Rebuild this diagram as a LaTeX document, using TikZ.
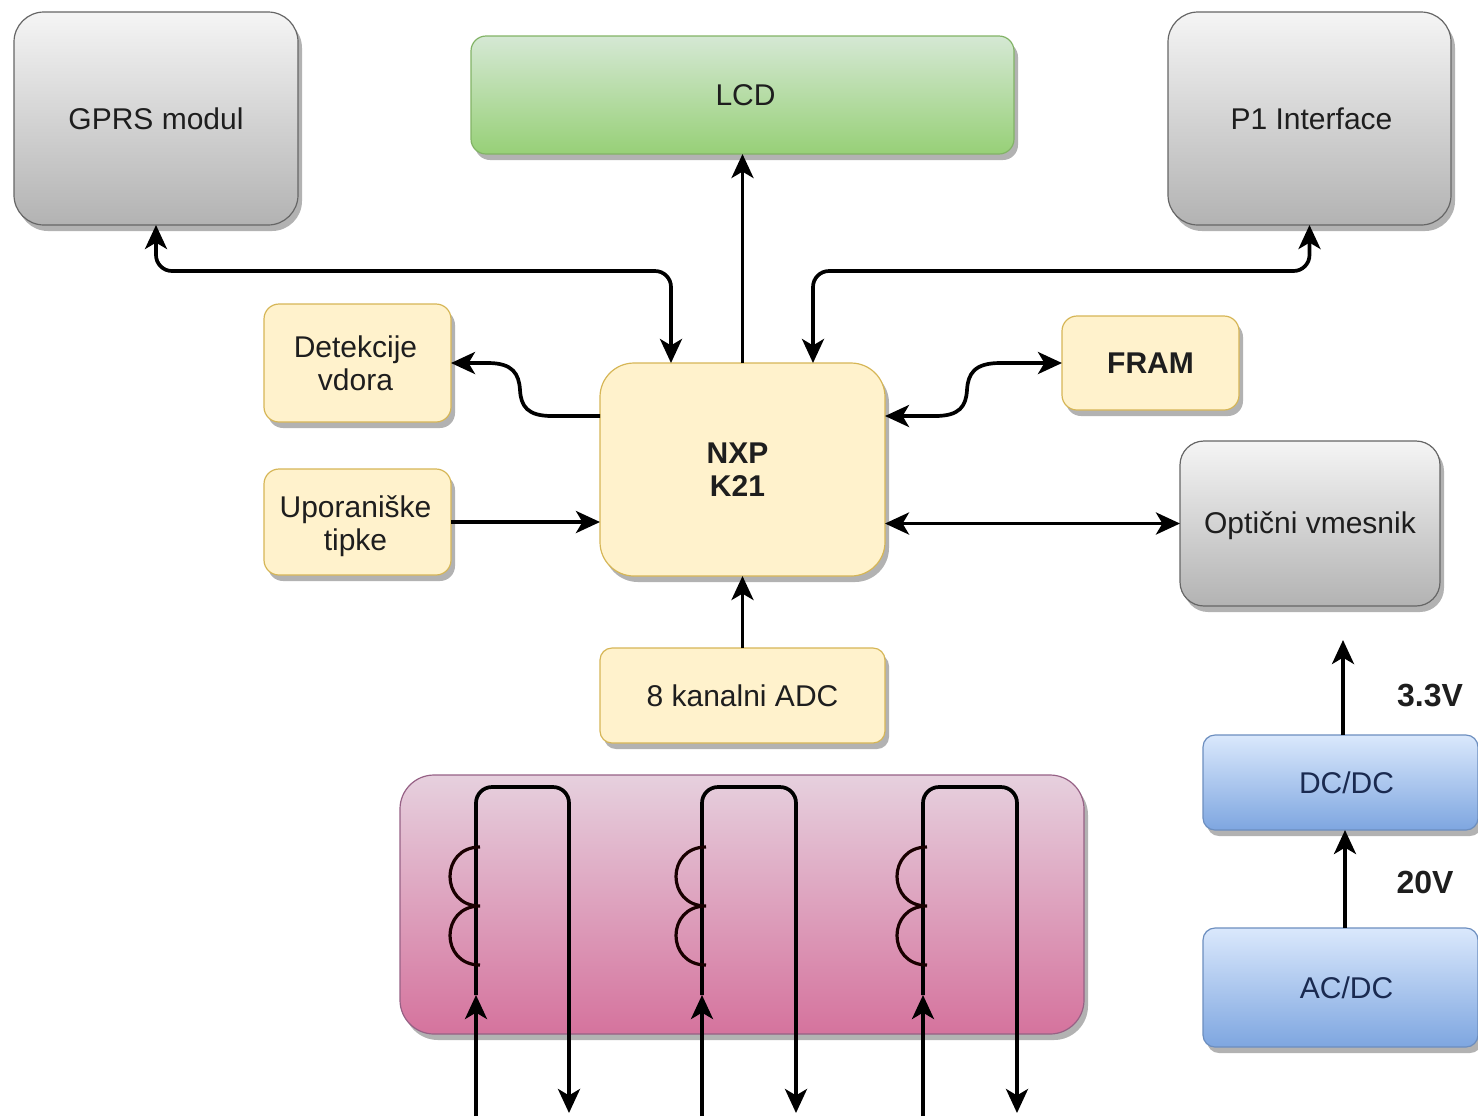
\documentclass[tikz,border=0pt]{standalone}
\usepackage{fontspec}
\setmainfont{Liberation Sans}
\usetikzlibrary{arrows.meta,shadows,calc}
\definecolor{txt}{HTML}{1E1E1E}
\newcommand{\lwr}[2]{\raisebox{-#1}[\height][\depth]{#2}}
\tikzset{
  sz/.style 2 args={minimum width=#1*0.5pt,minimum height=#2*0.5pt},
  blk/.style={inner sep=0pt,outer sep=0pt,align=center,line width=0.6pt,text=txt,
    font=\fontsize{15}{16.5}\selectfont,
    drop shadow={shadow xshift=2pt,shadow yshift=-3pt,fill=black,opacity=0.3}},
  greybox/.style={blk,draw=black!60,top color=white!96!black,bottom color=black!30},
  greenbox/.style={blk,
    top color={rgb,255:red,213;green,232;blue,212},bottom color={rgb,255:red,151;green,208;blue,119},
    draw={rgb,255:red,130;green,179;blue,102}},
  yellowbox/.style={blk,fill={rgb,255:red,255;green,242;blue,204},draw={rgb,255:red,214;green,182;blue,86}},
  bluebox/.style={blk,text={rgb,255:red,26;green,42;blue,80},rounded corners=6pt,
    top color={rgb,255:red,218;green,232;blue,252},bottom color={rgb,255:red,126;green,166;blue,224},
    draw={rgb,255:red,108;green,142;blue,191}},
  pinkbox/.style={blk,rounded corners=17pt,
    top color={rgb,255:red,230;green,208;blue,222},bottom color={rgb,255:red,213;green,115;blue,157},
    draw={rgb,255:red,150;green,97;blue,133}},
  wire/.style={line width=1.85pt,draw=black,rounded corners=8pt,line join=round},
  curvewire/.style={line width=1.85pt,draw=black,line join=round},
  tip/.tip={Stealth[length=12pt,width=11pt,inset=3.2pt]},
  coilwire/.style={line width=1.6pt,draw=black!90!red},
  voltage/.style={inner sep=0pt,text=txt,font=\fontsize{16}{18}\selectfont\bfseries}
}
\begin{document}
\begin{tikzpicture}[x=0.5pt,y=-0.5pt]
\useasboundingbox (0,0) rectangle (1478,1116);

% blocks
\node[greybox,rounded corners=15pt,sz={284}{213}] (gprs) at (156,118.5) {GPRS modul};
\node[greenbox,rounded corners=7.5pt,sz={543}{118}] (lcd) at (742.5,95) {\hspace*{3pt}LCD};
\node[greybox,rounded corners=15pt,sz={283}{213}] (p1) at (1309.5,118.5) {\hspace*{2pt}P1 Interface};
\node[yellowbox,rounded corners=7.5pt,sz={187}{118}] (det) at (357.5,363) {\hspace*{-2pt}Detekcije\\\hspace*{-2pt}vdora};
\node[yellowbox,rounded corners=7.5pt,sz={187}{106}] (upo) at (357.5,522) {\lwr{2pt}{\hspace*{-2pt}Uporaniške}\\\lwr{2pt}{\hspace*{-2pt}tipke}};
\node[yellowbox,rounded corners=17pt,sz={285}{213}] (nxp) at (742.5,469.5) {\hspace*{-5pt}\textbf{NXP}\\\hspace*{-5pt}\textbf{K21}};
\node[yellowbox,rounded corners=7.5pt,sz={177}{94}] (fram) at (1150.5,363) {\textbf{FRAM}};
\node[greybox,rounded corners=12pt,sz={260}{165}] (opt) at (1310,523.5) {\lwr{1.2pt}{Optični vmesnik}};
\node[yellowbox,rounded corners=6pt,sz={285}{95}] (adc) at (742.5,695.5) {8 kanalni ADC};
\node[pinkbox,sz={684}{259}] (pink) at (742,904.5) {};
\node[bluebox,sz={275}{95}] (dc) at (1340.5,782.5) {\hspace*{6pt}DC/DC};
\node[bluebox,sz={275}{119}] (ac) at (1340.5,987.5) {\hspace*{6pt}AC/DC};

% voltage labels
\node[voltage] (v33) at (1430,695) {3.3V};
\node[voltage] (v20) at (1425,882) {20V};
\coordinate (dcout) at (1343,640);

% connectors
\draw[wire,{tip}-{tip}] (gprs.south) -- (156,271) -- (671,271) -- ($(nxp.north)+(-71.5,0)$);
\draw[wire,{tip}-{tip}] (p1.south) -- (1309.5,271) -- (813,271) -- ($(nxp.north)+(70.5,0)$);
\draw[wire,-{tip}] (nxp.north) -- (lcd.south);
\draw[curvewire,-{tip}] ($(nxp.west)+(0,-53.5)$) -- (552,416)
  .. controls (527,416) and (521,406) .. (520,390)
  .. controls (519,374) and (513,363) .. (488,363) -- (det.east);
\draw[curvewire,{tip}-{tip}] ($(nxp.east)+(0,-53.5)$) -- (935,416)
  .. controls (960,416) and (966,406) .. (967,390)
  .. controls (968,374) and (974,363) .. (1000,363) -- (fram.west);
\draw[wire,-{tip}] (upo.east) -- (nxp.west |- upo.east);
\draw[wire,{tip}-{tip}] (nxp.east |- opt.west) -- (opt.west);
\draw[wire,-{tip}] (adc.north) -- (nxp.south);
\draw[wire,-{tip}] ($(dc.north)+(2.5,0)$) -- (dcout);
\draw[wire,-{tip}] ($(ac.north)+(4.5,0)$) -- ($(dc.south)+(4.5,0)$);

% current transformer coils
\foreach \i/\a/\b in {1/476/569,2/702/796,3/923/1017}{
  \coordinate (in\i) at (\a,1116);
  \coordinate (tipin\i) at (\a,995);
  \coordinate (out\i) at (\b,1113);
  \draw[wire,-{tip}] (in\i) -- (tipin\i);
  \draw[wire] (tipin\i) -- (\a,787) -- (\b,787) -- (\b,1000);
  \draw[wire,-{tip}] (\b,1000) -- (out\i);
  \draw[coilwire] (\a+4,847) .. controls (\a-36,847) and (\a-36,906) .. (\a+4,906)
                  .. controls (\a-36,906) and (\a-36,965) .. (\a+4,965);
}
\end{tikzpicture}
\end{document}
